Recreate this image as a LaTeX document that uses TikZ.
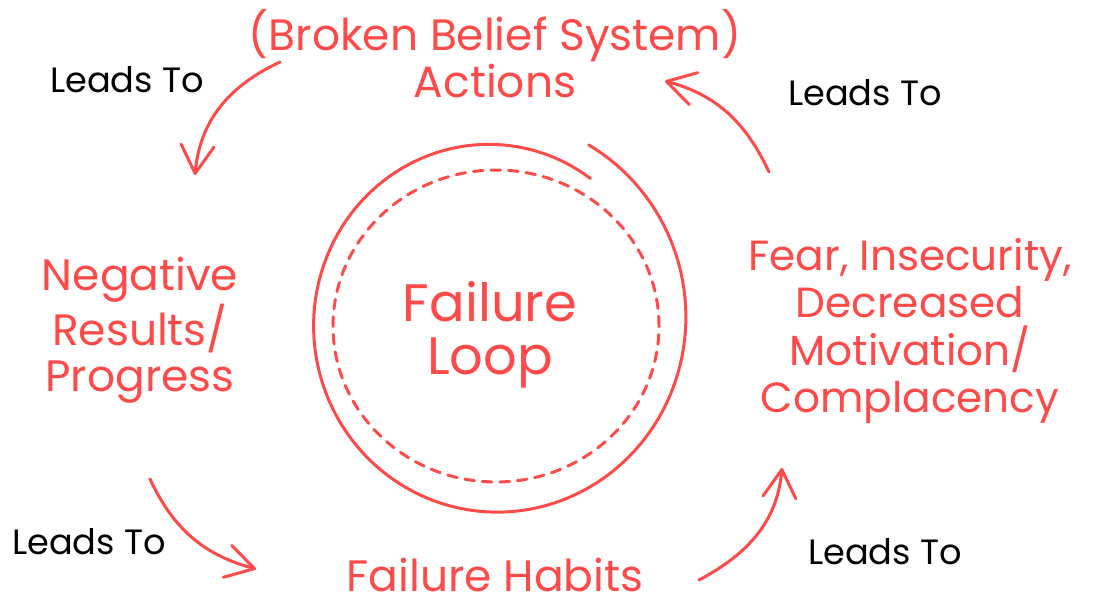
\documentclass[tikz,border=0pt]{standalone}
\usepackage{fontspec}
\setmainfont{Poppins}
\usetikzlibrary{arrows.meta}
\definecolor{loopred}{RGB}{255,74,74}
\tikzset{
  stage/.style={text=loopred, align=center, inner sep=0pt,
    font=\fontsize{25}{26.5}\selectfont},
  leads/.style={text=black, inner sep=0pt, font=\fontsize{20}{22}\selectfont},
  loopline/.style={draw=loopred, line width=1.7pt, line cap=round},
  leadsarrow/.style={loopline, -{Straight Barb[length=5.6mm, width=6.6mm, round]}},
  declare function={spread(\t)=-0.25+0.55*(\t+305)/367;},
}
\begin{document}
\begin{tikzpicture}
  \useasboundingbox (0,0) rectangle (22.06,12.12);
  % the loop itself
  \draw[loopline] plot[domain=61:-305, samples=150, variable=\t]
    ({9.86+(3.65+spread(\t))*cos(\t)}, {5.69+(3.74+spread(\t))*sin(\t)});
  \draw[loopline, dash pattern=on 5.5pt off 4.5pt]
    (9.92,5.60) circle [x radius=3.26cm, y radius=3.12cm];
  \node[stage, font=\fontsize{30}{30}\selectfont] (loop) at (9.8,5.42) {Failure\\Loop};

  % stages
  \node[stage] (actions)  at (9.9,11.05) {(Broken Belief System)\\Actions};
  \node[stage] (results)  at (2.8,5.52)  {Negative\\Results/\\Progress};
  \node[stage] (habits)   at (9.9,0.62)  {Failure Habits};
  \node[stage, font=\fontsize{24}{27}\selectfont] (fear) at (18.2,5.50)
    {Fear, Insecurity,\\Decreased\\Motivation/\\Complacency};

  % labels
  \node[leads] (lead1) at (2.54,10.52) {Leads To};
  \node[leads] (lead2) at (1.78,1.28)  {Leads To};
  \node[leads] (lead3) at (17.7,1.08)  {Leads To};
  \node[leads] (lead4) at (17.3,10.26) {Leads To};

  % arrows
  \coordinate (a1) at (5.60,10.88);  \coordinate (b1) at (3.90,8.62);
  \coordinate (a2) at (3.00,2.54);   \coordinate (b2) at (5.12,0.74);
  \coordinate (a3) at (13.98,0.52);  \coordinate (b3) at (15.64,2.76);
  \coordinate (a4) at (15.38,8.68);  \coordinate (b4) at (13.30,10.50);
  \draw[leadsarrow] (a1) to[out=205, in=85]  (b1);
  \draw[leadsarrow] (a2) to[out=-65, in=165] (b2);
  \draw[leadsarrow] (a3) to[out=28,  in=-95] (b3);
  \draw[leadsarrow] (a4) to[out=115, in=-15] (b4);
\end{tikzpicture}
\end{document}
